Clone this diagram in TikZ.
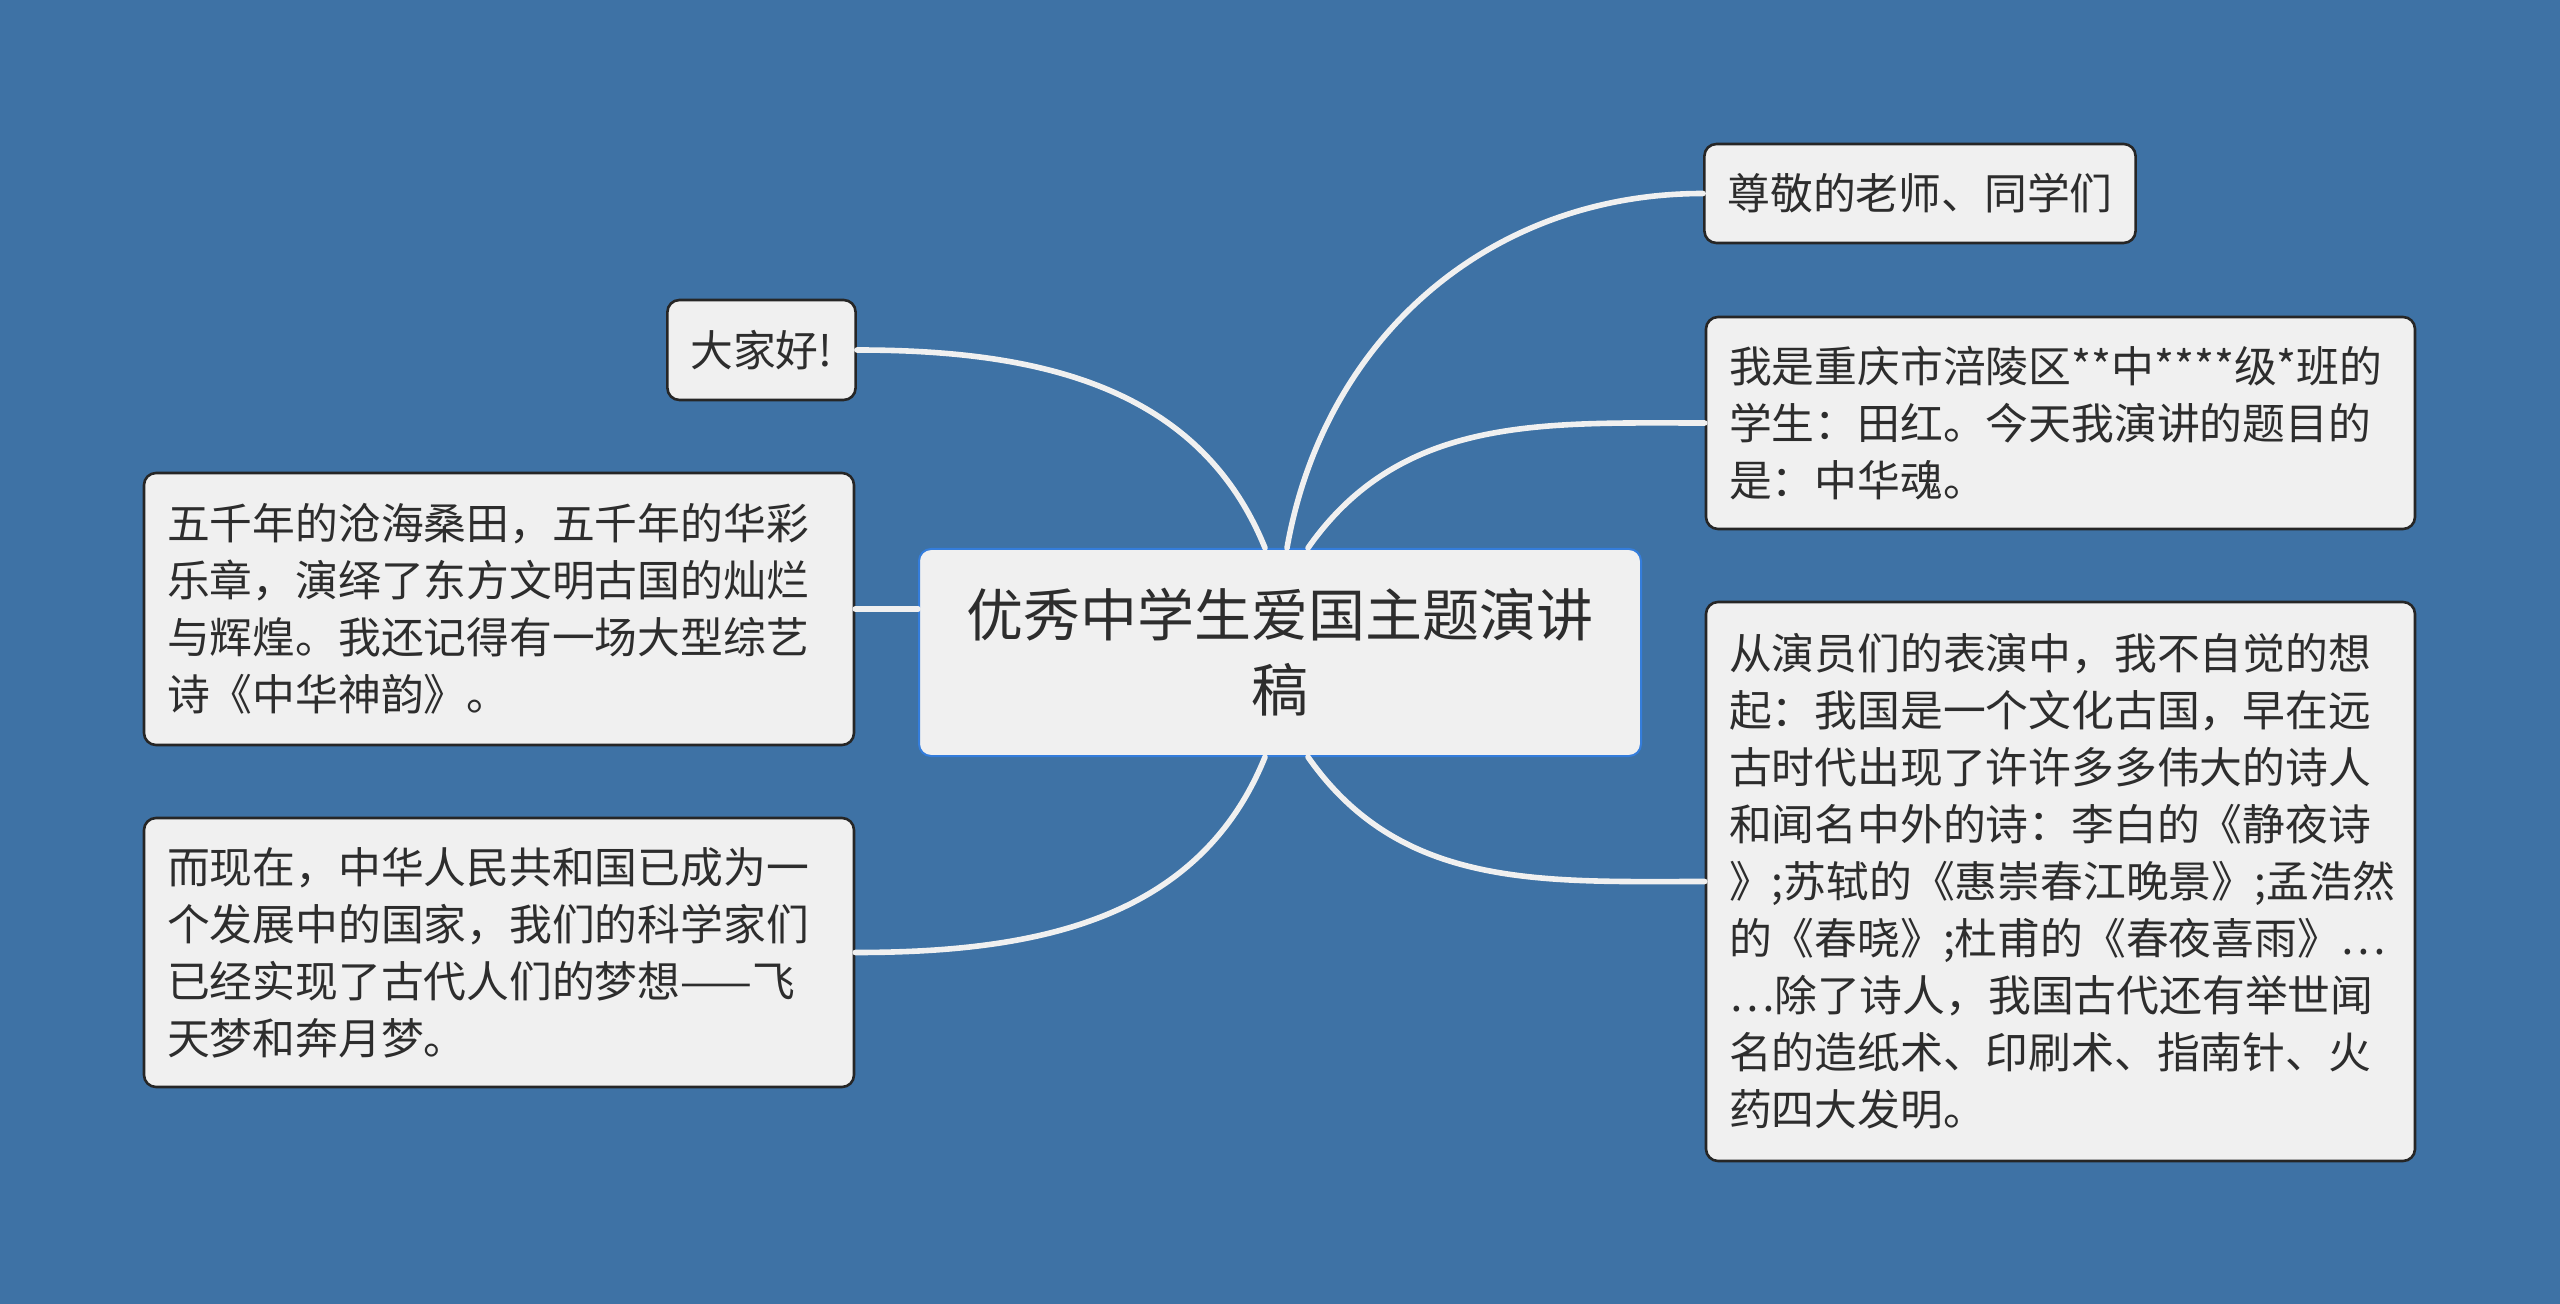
\documentclass[tikz,border=0pt]{standalone}
\usepackage{fontspec}
\newfontfamily\cjk{Noto Sans CJK SC}
\usetikzlibrary{positioning, calc}

\definecolor{bgblue}{RGB}{62,114,165}
\definecolor{boxfill}{RGB}{240,240,240}
\definecolor{rootline}{RGB}{52,125,220}
\definecolor{inktext}{RGB}{45,45,45}

\begin{document}
\begin{tikzpicture}[
    x=0.5pt, y=-0.5pt, % one unit = one pixel of the 2560x1304 canvas
    % Style definitions
    root box/.style={draw=rootline, line width=1pt, fill=boxfill, rounded corners=6pt,
        minimum width=361pt, minimum height=103.5pt, align=center, text=inktext,
        font=\cjk\fontsize{28.5}{37.5}\selectfont},
    leaf box/.style={draw=black!85, line width=1.3pt, fill=boxfill, rounded corners=6pt,
        inner xsep=11.5pt, align=left, text=inktext,
        font=\cjk\fontsize{21.4}{28.5}\selectfont},
    branch/.style={draw=boxfill, line width=2.8pt, line cap=round}
]

% background
\fill[bgblue] (0,0) rectangle (2560,1304);
\useasboundingbox (0,0) rectangle (2560,1304);

% ==========================================
% 1. CENTRAL TOPIC
% ==========================================
\node[root box] (root) at (1280,652.5) {优秀中学生爱国主题演讲\\稿};

% ==========================================
% 2. LEFT BRANCHES
% ==========================================
\node[leaf box, minimum width=92.5pt, minimum height=50pt] (hello) at (761.5,350) {大家好!};

\node[leaf box, text width=332pt, minimum height=136pt] (history) at (499,609)
    {五千年的沧海桑田，五千年的华彩\\乐章，演绎了东方文明古国的灿烂\\与辉煌。我还记得有一场大型综艺\\诗《中华神韵》。};

\node[leaf box, text width=332pt, minimum height=134.5pt] (dream) at (499,952.5)
    {而现在，中华人民共和国已成为一\\个发展中的国家，我们的科学家们\\已经实现了古代人们的梦想——飞\\天梦和奔月梦。};

% ==========================================
% 3. RIGHT BRANCHES
% ==========================================
\node[leaf box, minimum width=214pt, minimum height=49.5pt] (teacher) at (1920,193.5) {尊敬的老师、同学们};

\node[leaf box, text width=331.5pt, minimum height=106pt] (intro) at (2060.5,423)
    {我是重庆市涪陵区**中****级*班的\\学生：田红。今天我演讲的题目的\\是：中华魂。};

\node[leaf box, text width=331.5pt, minimum height=279.5pt] (poets) at (2060.5,881.5)
    {从演员们的表演中，我不自觉的想\\起：我国是一个文化古国，早在远\\古时代出现了许许多多伟大的诗人\\和闻名中外的诗：李白的《静夜诗\\》;苏轼的《惠崇春江晚景》;孟浩然\\的《春晓》;杜甫的《春夜喜雨》…\\…除了诗人，我国古代还有举世闻\\名的造纸术、印刷术、指南针、火\\药四大发明。};

% ==========================================
% 4. CONNECTORS
% ==========================================
\draw[branch] ([xshift=-7.5pt]root.north) to[out=112, in=0] (hello.east);
\draw[branch] (root.west |- history.east) -- (history.east);
\draw[branch] ([xshift=-7.5pt]root.south) to[out=-112, in=0] (dream.east);

\draw[branch] ([xshift=3.5pt]root.north) to[out=80, in=180] (teacher.west);
\draw[branch] ([xshift=14pt]root.north) to[out=55, in=180] (intro.west);
\draw[branch] ([xshift=14pt]root.south) to[out=-55, in=180] (poets.west);

\end{tikzpicture}
\end{document}
